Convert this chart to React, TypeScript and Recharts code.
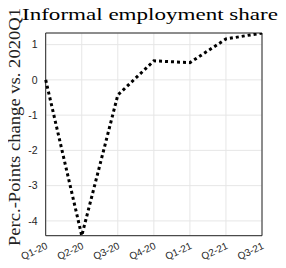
import { LineChart, Line, XAxis, YAxis, CartesianGrid, ReferenceArea } from "recharts";

const QUARTERS = ["Q1-20", "Q2-20", "Q3-20", "Q4-20", "Q1-21", "Q2-21", "Q3-21"];
const INFORMAL_SHARE = [0, -4.42, -0.43, 0.54, 0.49, 1.16, 1.33];
const Y_TICKS = [-4, -3, -2, -1, 0, 1];

const TITLE = "Informal employment share";
const Y_LABEL = "Perc.-Points change vs. 2020Q1";

const data = QUARTERS.map((q, i) => ({ q, v: INFORMAL_SHARE[i] }));

const AXIS_COLOR = "#262626";
const SANS = "'Liberation Sans', Arial, sans-serif";
const SERIF = "'Liberation Serif', 'Times New Roman', serif";

// rotated quarter labels, anchored at their right end like matlab's xtickangle
function QuarterTick(props: any) {
  const { x, y, payload } = props;
  const tx = x + 2.6;
  const ty = y + 12.5;
  return (
    <text
      x={tx}
      y={ty}
      textAnchor="end"
      transform={`rotate(-25 ${tx} ${ty})`}
      fontSize={10}
      fontFamily={SANS}
      fill={AXIS_COLOR}
    >
      {payload.value}
    </text>
  );
}

export default function App() {
  return (
    <div style={{ position: "relative", width: 286, height: 268, margin: -8, background: "#fff" }}>
      <LineChart width={286} height={268} data={data} margin={{ top: 33, right: 24, bottom: 0, left: 0 }}>
        <CartesianGrid stroke="#e6e6e6" strokeWidth={1} />
        <XAxis
          dataKey="q"
          interval={0}
          axisLine={false}
          tickLine={false}
          tickSize={0}
          tickMargin={0}
          height={32.3}
          tick={<QuarterTick />}
        />
        <YAxis
          domain={["dataMin", "dataMax"]}
          ticks={Y_TICKS}
          allowDataOverflow
          axisLine={false}
          tickLine={false}
          tickSize={0}
          tickMargin={8}
          width={45.7}
          tick={{ fontSize: 10.5, fontFamily: SANS, fill: AXIS_COLOR }}
        />
        <ReferenceArea
          x1={QUARTERS[0]}
          x2={QUARTERS[QUARTERS.length - 1]}
          fill="none"
          stroke={AXIS_COLOR}
          strokeWidth={1}
          ifOverflow="visible"
        />
        <Line
          type="linear"
          dataKey="v"
          stroke="#000"
          strokeWidth={3}
          strokeDasharray="3 3"
          dot={false}
          isAnimationActive={false}
        />
      </LineChart>
      <svg
        width={286}
        height={268}
        style={{ position: "absolute", left: 0, top: 0, pointerEvents: "none" }}
      >
        <text
          x={150}
          y={19.5}
          textAnchor="middle"
          fontSize={17.5}
          fontFamily={SERIF}
          fill="#000"
          textLength={256}
          lengthAdjust="spacingAndGlyphs"
        >
          {TITLE}
        </text>
        <text
          x={19.5}
          y={127}
          textAnchor="middle"
          transform="rotate(-90 19.5 127)"
          fontSize={16}
          fontFamily={SERIF}
          fill="#222"
          textLength={238}
          lengthAdjust="spacingAndGlyphs"
        >
          {Y_LABEL}
        </text>
      </svg>
    </div>
  );
}
